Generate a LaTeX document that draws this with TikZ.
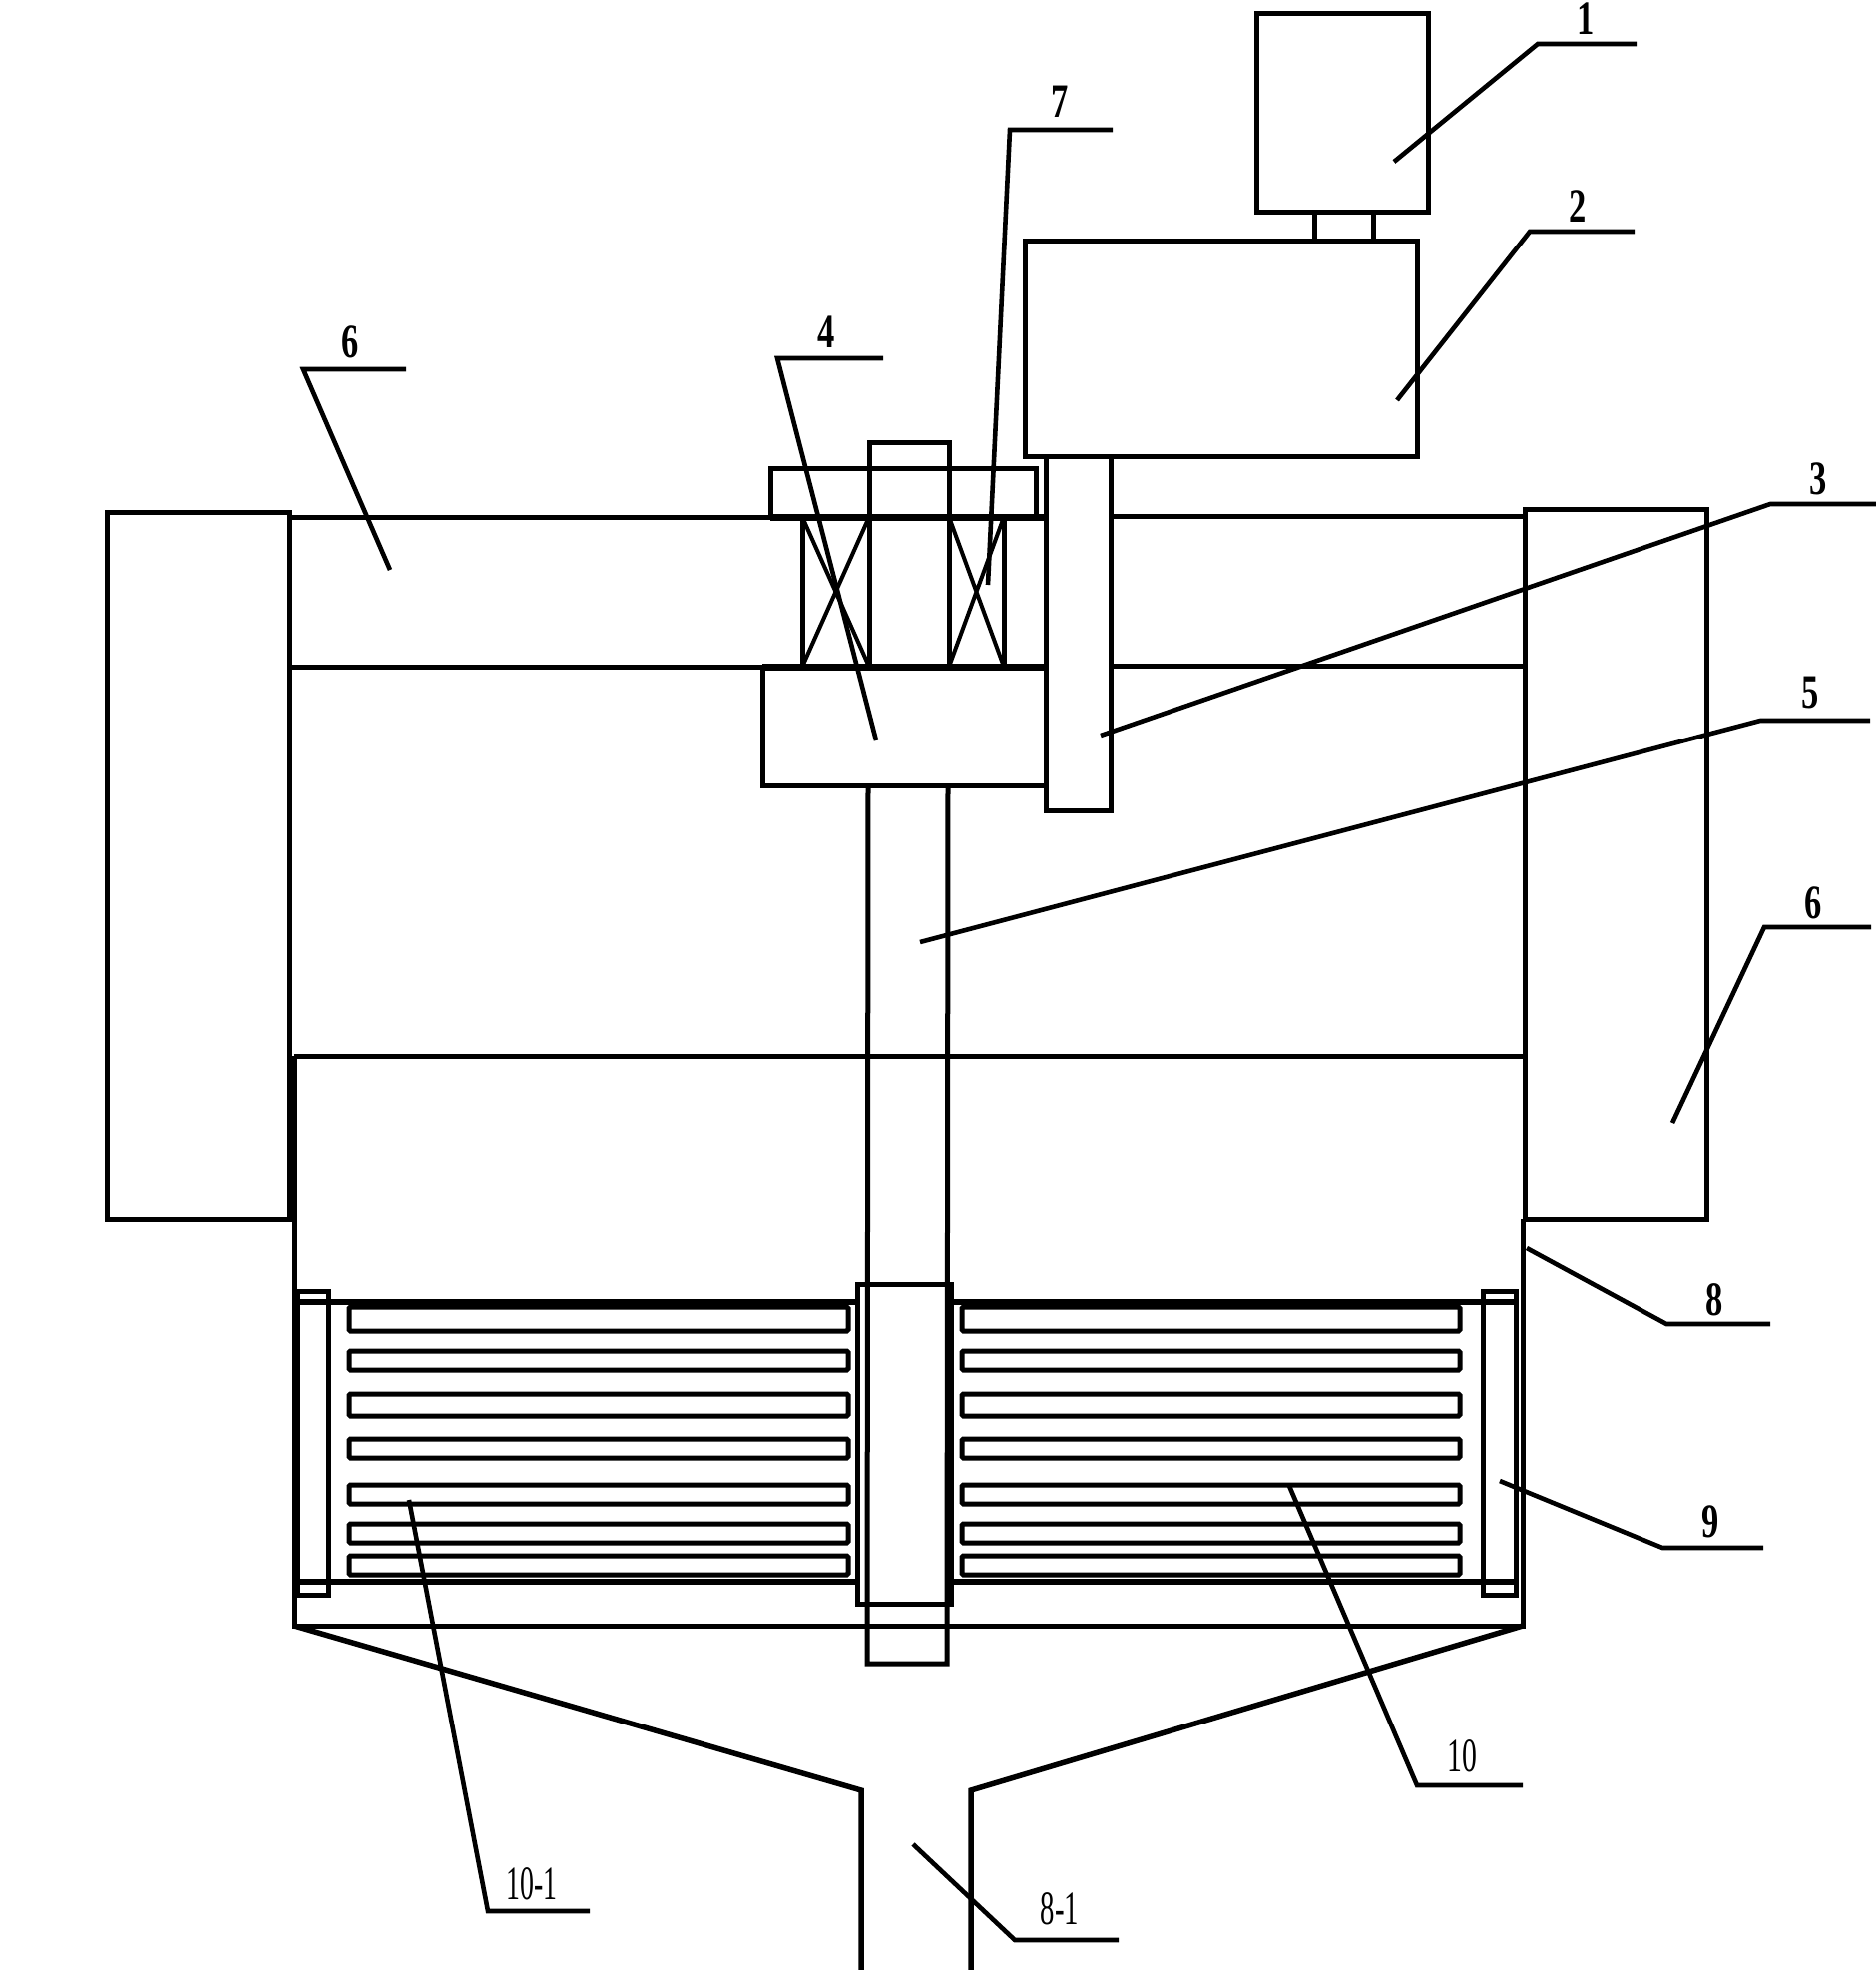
\documentclass[tikz,border=0pt]{standalone}
\usepackage{fontspec}
\setmainfont{Liberation Serif}
\tikzset{
  part/.style={draw=black,line width=5pt,line join=miter},
  leader/.style={draw=black,line width=4.6pt},
  fin/.style={draw=black,line width=5pt,rounded corners=1.5pt},
  num/.style={inner sep=0pt,font=\fontsize{48}{48}\selectfont\bfseries,xscale=0.72,text=black},
  numw/.style={inner sep=0pt,font=\fontsize{48}{48}\selectfont,text=black}
}
\newcommand{\finpair}[2]{%
  \draw[fin] (350,#1) rectangle (850,#2);
  \draw[fin] (964,#1) rectangle (1463,#2);}
\begin{document}
\begin{tikzpicture}[x=1pt,y=-1pt]
\useasboundingbox (0,0) rectangle (1880,1974);
\fill[white] (0,0) rectangle (1880,1974);
% motor and gearbox
\draw[part] (1259,13) rectangle (1431,212);
\draw[part] (1317,212) -- (1317,240) (1376,212) -- (1376,240);
\draw[part] (1027,241) rectangle (1420,457);
% side boxes
\draw[part] (107,513) rectangle (290,1221);
\draw[part] (1528,510) rectangle (1710,1221);
% horizontal frame lines
\draw[part] (290,518) -- (772,518) (1113,517) -- (1528,517);
\draw[part] (290,668) -- (804,668) (1113,667) -- (1528,667);
\draw[part,line width=7pt] (772,518) -- (1048,518);
\draw[part,line width=7pt] (764,668) -- (1048,668);
\draw[part] (295,1058) -- (1527,1058);
% housing
\draw[part] (295,1058) -- (295,1629) -- (1526,1629) -- (1526,1221);
% shaft
\draw[part] (870,787) -- (869,1667) -- (949,1667) -- (950,787);
\draw[part] (871,668) -- (871,443) -- (951,443) -- (951,668);
% flange and bearings
\draw[part] (772,518) -- (772,469) -- (1038,469) -- (1038,518);
\draw[part] (804,518) -- (804,668) (1006,518) -- (1006,668);
\draw[part,line width=4pt] (804,518) -- (871,668) (871,518) -- (804,668);
\draw[part,line width=4pt] (951,518) -- (1006,668) (1006,518) -- (951,668);
% block 4
\draw[part] (764,668) rectangle (1048,787);
% post 3
\draw[part] (1048,457) -- (1048,812) -- (1113,812) -- (1113,457);
% grid frame
\draw[part,line width=5.5pt] (295,1305) -- (859,1305) (953,1305) -- (1519,1305);
\draw[part,line width=5.5pt] (295,1585) -- (859,1585) (953,1585) -- (1519,1585);
% side plates
\draw[part] (298,1294) rectangle (329,1598);
\draw[part] (1486,1294) rectangle (1519,1598);
% hub
\draw[part] (859,1287) rectangle (953,1607);
% fins
\finpair{1310}{1334}
\finpair{1354}{1373}
\finpair{1397}{1419}
\finpair{1442}{1461}
\finpair{1488}{1507}
\finpair{1527}{1546}
\finpair{1559}{1578}
% outlet
\draw[part,line width=5.5pt] (295,1629) -- (863,1794) -- (863,1974);
\draw[part,line width=5.5pt] (1526,1629) -- (973,1794) -- (973,1974);
% labels
\node[num] (n1) at (1589,19) {1};
\node[num] (n2) at (1581,207) {2};
\node[num] (n3) at (1822,480) {3};
\node[num] (n4) at (828,333) {4};
\node[num] (n5) at (1814,694) {5};
\node[num] (n6a) at (351,343) {6};
\node[num] (n6b) at (1817,905) {6};
\node[num] (n7) at (1062,102) {7};
\node[num] (n8) at (1718,1303) {8};
\node[num] (n9) at (1714,1525) {9};
\node[numw,xscale=0.62] (n10) at (1465,1760) {10};
\node[numw,xscale=0.58] (n101) at (533,1888) {10-1};
\node[numw,xscale=0.6] (n81) at (1062,1913) {8-1};
% leaders
\draw[leader] (1397,162) -- (1541,44) -- (1640,44);
\draw[leader] (1400,401) -- (1533,232) -- (1638,232);
\draw[leader] (1103,737) -- (1774,505) -- (1880,505);
\draw[leader] (878,742) -- (779,359) -- (885,359);
\draw[leader] (922,944) -- (1764,722) -- (1874,722);
\draw[leader] (391,571) -- (304,370) -- (407,370);
\draw[leader] (1676,1125) -- (1768,929) -- (1875,929);
\draw[leader] (990,586) -- (1012,130) -- (1115,130);
\draw[leader] (1530,1251) -- (1670,1327) -- (1774,1327);
\draw[leader] (1503,1484) -- (1666,1551) -- (1767,1551);
\draw[leader] (1292,1489) -- (1420,1789) -- (1526,1789);
\draw[leader] (410,1503) -- (489,1915) -- (591,1915);
\draw[leader] (915,1848) -- (1017,1944) -- (1121,1944);
\end{tikzpicture}
\end{document}
